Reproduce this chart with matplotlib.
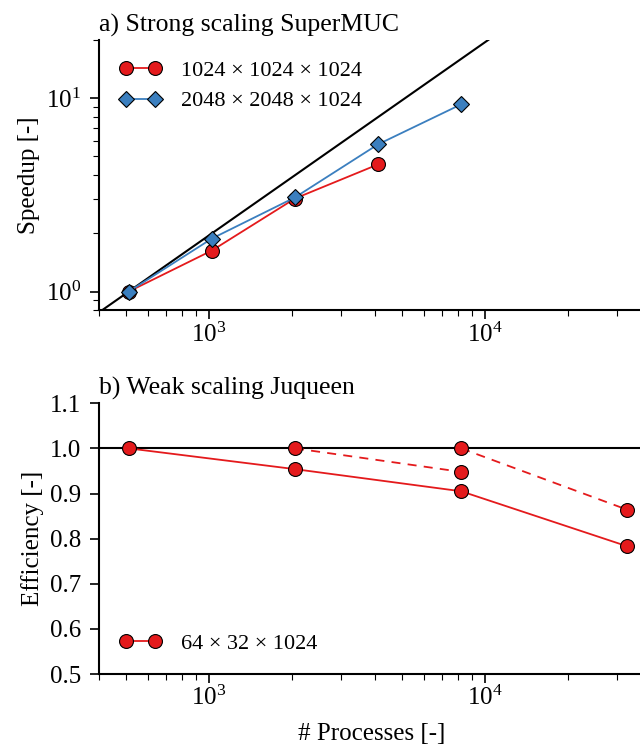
import matplotlib

matplotlib.use("Agg")
import matplotlib.pyplot as plt
import numpy as np

plt.rcParams["font.family"] = ["Liberation Serif", "DejaVu Serif"]
plt.rcParams["mathtext.fontset"] = "stix"
plt.rcParams["font.size"] = 18

# strong scaling (SuperMUC)
strong_procs_1024 = [512, 1024, 2048, 4096]
strong_speedup_1024 = [1.0, 1.63, 3.03, 4.55]
strong_procs_2048 = [512, 1024, 2048, 4096, 8192]
strong_speedup_2048 = [1.0, 1.88, 3.07, 5.78, 9.31]
ideal_procs = [400, 40000]

# weak scaling (Juqueen)
weak_procs = [512, 2048, 8192, 32768]
weak_eff = [1.0, 0.954, 0.905, 0.783]
weak_dash_a_procs = [2048, 8192]
weak_dash_a_eff = [1.0, 0.948]
weak_dash_b_procs = [8192, 32768]
weak_dash_b_eff = [1.0, 0.864]

RED = "#e41a1c"
BLUE = "#3b7fbf"

fig = plt.figure(figsize=(6.4, 7.44), dpi=100)
ax1 = fig.add_axes([0.155, 0.583, 0.853, 0.363])
ax2 = fig.add_axes([0.155, 0.094, 0.853, 0.364])

for ax in (ax1, ax2):
    ax.spines["top"].set_visible(False)
    ax.spines["right"].set_visible(False)
    ax.set_xscale("log")
    ax.set_xlim(400, 38000)
    ax.tick_params(which="major", direction="out", length=6.5, width=1.2,
                   labelsize=18)
    ax.tick_params(which="minor", direction="out", length=4.5, width=0.8)
    ax.tick_params(axis="y", which="major", pad=6.5)
    ax.tick_params(axis="x", which="major", pad=2.2)
    for s in ("left", "bottom"):
        ax.spines[s].set_linewidth(1.5)

marker_kw = dict(markeredgecolor="black", markeredgewidth=0.8, markersize=10)
legend_kw = dict(frameon=False, numpoints=2, handlelength=1.9,
                 handletextpad=0.9, borderaxespad=0.5, fontsize=16,
                 labelspacing=0.45)

ax1.plot(ideal_procs, np.array(ideal_procs) / 512, color="black", lw=1.5)
ax1.plot(strong_procs_1024, strong_speedup_1024, "-o", color=RED, lw=1.3,
         markerfacecolor=RED, label="1024 × 1024 × 1024", **marker_kw)
ax1.plot(strong_procs_2048, strong_speedup_2048, "-D", color=BLUE, lw=1.3,
         markerfacecolor=BLUE, label="2048 × 2048 × 1024",
         markeredgecolor="black", markeredgewidth=0.8, markersize=8)
ax1.set_yscale("log")
ax1.set_ylim(0.8, 20)
ax1.set_ylabel("Speedup [-]", fontsize=18)
ax1.set_title("a) Strong scaling SuperMUC", loc="left", fontsize=18.5, pad=6)
ax1.legend(loc="upper left", **legend_kw)

ax2.axhline(1.0, color="black", lw=1.5)
ax2.plot(weak_procs, weak_eff, "-o", color=RED, lw=1.3, markerfacecolor=RED,
         label="64 × 32 × 1024", **marker_kw)
ax2.plot(weak_dash_a_procs, weak_dash_a_eff, "--o", color=RED, lw=1.3,
         markerfacecolor=RED, dashes=(5, 4), **marker_kw)
ax2.plot(weak_dash_b_procs, weak_dash_b_eff, "--o", color=RED, lw=1.3,
         markerfacecolor=RED, dashes=(5, 4), **marker_kw)
ax2.set_ylim(0.5, 1.1)
ax2.set_yticks(np.arange(0.5, 1.11, 0.1))
ax2.set_yticklabels(["0.5", "0.6", "0.7", "0.8", "0.9", "1.0", "1.1"])
ax2.set_ylabel("Efficiency [-]", fontsize=18)
ax2.set_xlabel("# Processes [-]", fontsize=18, labelpad=9)
ax2.set_title("b) Weak scaling Juqueen", loc="left", fontsize=18.5, pad=6)
ax2.legend(loc="lower left", **legend_kw)

fig.savefig("out.png", dpi=100)
